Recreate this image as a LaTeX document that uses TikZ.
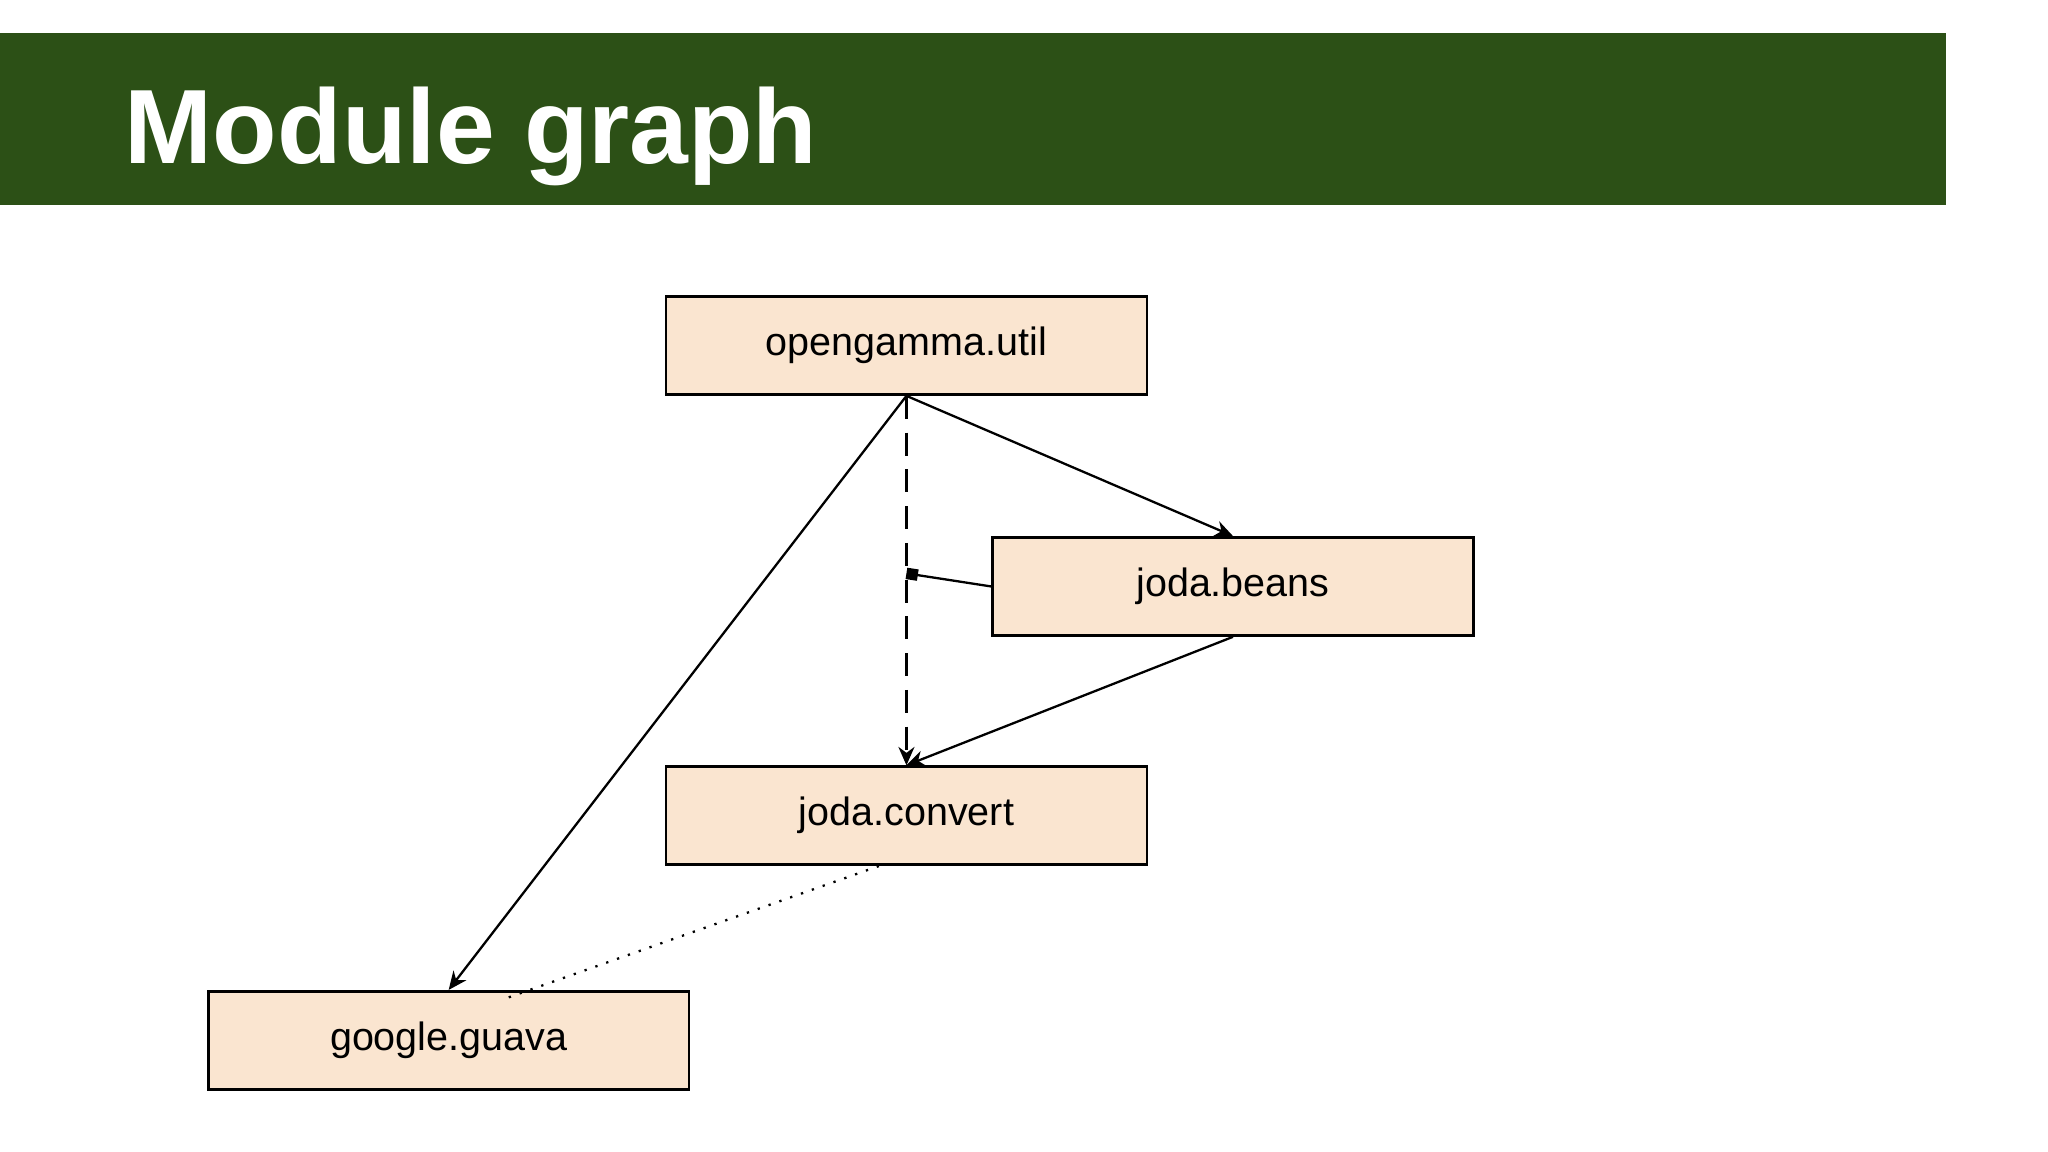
\documentclass[tikz,border=0pt]{standalone}
\usepackage{fontspec}
\setmainfont{Liberation Sans}
\usetikzlibrary{arrows.meta}
\begin{document}
\begin{tikzpicture}[x=0.01cm,y=-0.01cm,
  mod/.style={draw=black,fill=boxfill,line width=0.6pt,minimum width=3.68cm,minimum height=0.75cm,inner sep=0pt,font=\fontsize{8.6pt}{10pt}\selectfont},
  edge/.style={line width=0.5pt,-{Stealth[length=4pt,width=3.5pt]}}]
\definecolor{boxfill}{HTML}{FAE5D0}
\definecolor{banner}{HTML}{2C5016}
\useasboundingbox (0,0) rectangle (1568,882);
\fill[banner] (0,25) rectangle (1490,157);
\node[anchor=base west,text=white,font=\fontsize{23pt}{26pt}\selectfont\bfseries,inner sep=0pt] (title) at (95,125) {Module graph};
\node[mod] (util) at (694,264.5) {opengamma.util};
\node[mod] (beans) at (944,449) {joda.beans};
\node[mod] (conv) at (694,624.5) {joda.convert};
\node[mod] (guava) at (343.5,796.5) {google.guava};
\coordinate (mid) at (694,439);
\draw[edge] (util.south) -- (beans.north);
\draw[edge] (util.south) -- (guava.north);
\draw[edge,dashed,dash pattern=on 5pt off 3pt] (util.south) -- (conv.north);
\draw[edge] (beans.south) -- (conv.north);
\draw[line width=0.5pt,-{Square[length=2.5pt,width=2.5pt]}] (beans.west) -- (mid);
\draw[line width=0.5pt,dotted] ([xshift=-6]conv.south) -- ([xshift=12,yshift=-2]guava.north);
\end{tikzpicture}
\end{document}
